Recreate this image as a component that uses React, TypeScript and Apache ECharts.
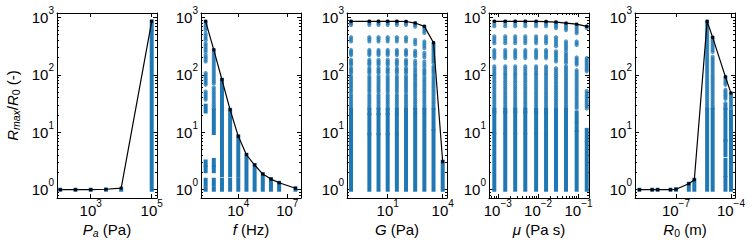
import React, { useEffect, useRef } from 'react';
import * as echarts from 'echarts';

// ---------- data ----------
// Panel 1: P_a (Pa)
const paX = [100, 316, 1000, 3162, 10000, 100000];
const paMax = [1.0, 1.0, 1.0, 1.02, 1.07, 850];
const paCols = [
  [100, 1, 1], [316, 1, 1], [1000, 1, 1], [3162, 1, 1], [10000, 1, 1],
  [100000, 1, 560], [100000, 620, 850],
];

// Panel 2: f (Hz)
const fX = [100, 316, 1000, 3162, 10000, 31623, 100000, 316228, 1000000, 3162278, 31622777];
const fMax = [850, 272, 82, 24.6, 8.5, 4.06, 2.69, 1.87, 1.53, 1.32, 1.06];
const fCols = [
  [100, 1, 1.05], [100, 1.22, 1.49], [100, 2.1, 2.45], [100, 2.7, 3.1],
  [100, 23, 29], [100, 37, 51], [100, 67, 107], [100, 170, 220], [100, 250, 350], [100, 400, 520], [100, 600, 850],
  [316, 1, 1.05], [316, 1.22, 1.49], [316, 2.1, 2.45], [316, 2.7, 3.3], [316, 9.7, 24], [316, 26, 60], [316, 70, 272],
  [1000, 1, 1.5], [1000, 1.8, 82],
  [3162, 1, 1.5], [3162, 1.8, 24.6],
  [10000, 1, 1.5], [10000, 1.75, 8.5],
  [31623, 1, 4.06], [100000, 1, 2.69], [316228, 1, 1.87], [1000000, 1, 1.53],
  [3162278, 1, 1.32], [31622777, 1, 1.06],
];

// Panel 3: G (Pa)
const gX = [0.1, 1, 3.16, 10, 31.6, 100, 316, 1000, 3162, 10000];
const gMax = [850, 850, 850, 850, 850, 845, 795, 695, 360, 3.07];
const gLevels = [[1, 9], [9.6, 20], [21.5, 24.5], [26, 45], [50, 95], [107, 131], [148, 182], [220, 270], [380, 450], [740, 850]];
const gCols316 = [[1, 20], [22.5, 24.5], [26, 95], [100, 130], [145, 175], [210, 260], [340, 407], [690, 794]];
const gCols1000 = [[1, 20], [23, 24.5], [26, 90], [100, 125], [140, 170], [200, 240], [290, 380], [535, 695]];
const gCols3162 = [[1, 10.5], [11.5, 24.5], [26, 95], [105, 140], [160, 230], [250, 360]];
const gCols10000 = [[1, 3.07]];

// Panel 4: mu (Pa s)
const muX = [0.00082, 0.00153, 0.0027, 0.0048, 0.0089, 0.0157, 0.0277, 0.049, 0.09, 0.16];
const muMax = [850, 850, 850, 850, 848, 840, 825, 795, 760, 695];
const muLevels = [[1, 9], [10, 22], [23, 24.5], [26, 60], [65, 100], [107, 140], [195, 270], [355, 465], [700, 850]];
const muCol7 = [[1, 22], [24, 24.5], [26, 130], [170, 255], [315, 450], [650, 820]];
const muCol8 = [[1, 11], [12.5, 17], [19, 24.5], [26, 140], [160, 240], [270, 380], [600, 760]];
const muCol9 = [[1, 10], [11, 14], [16, 22], [26, 120], [150, 200], [330, 380], [530, 740]];
const muCol10 = [[1, 6.4], [7.3, 11], [26, 52], [115, 195], [650, 700]];

// Panel 5: R_0 (m)
const rX = [1e-9, 5e-9, 1e-8, 5e-8, 1e-7, 5e-7, 1e-6, 5e-6, 1e-5, 5e-5, 1e-4];
const rMax = [1, 1, 1, 1, 1.02, 1.27, 1.49, 850, 447, 92, 48];
const rCols = [
  [1e-9, 1, 1], [5e-9, 1, 1], [1e-8, 1, 1], [5e-8, 1, 1], [1e-7, 1, 1.02],
  [5e-7, 1, 1.27], [1e-6, 1, 1.49], [5e-6, 1, 24.5], [5e-6, 26, 850],
  [1e-5, 1, 24.5], [1e-5, 26, 205], [1e-5, 250, 447],
  [5e-5, 1, 1.6], [5e-5, 1.8, 3.3], [5e-5, 4, 7], [5e-5, 7.4, 15.6], [5e-5, 18, 24.5], [5e-5, 26, 32], [5e-5, 38, 55], [5e-5, 67, 92],
  [1e-4, 1, 1.4], [1e-4, 1.6, 2.7], [1e-4, 3.1, 6], [1e-4, 6.9, 13.5], [1e-4, 15.6, 23], [1e-4, 26, 48],
];

// ticks
const yMajor = [1, 10, 100, 1000];
const yMinor = [0.8, 0.9, 2, 3, 4, 5, 6, 7, 8, 9, 20, 30, 40, 50, 60, 70, 80, 90, 200, 300, 400, 500, 600, 700, 800, 900];
const xMajor = [[1e3, 1e5], [1e4, 1e7], [1e1, 1e4], [1e-3, 1e-2, 1e-1], [1e-7, 1e-4]];
const muMinor = [0.0006, 0.0007, 0.0008, 0.0009, 0.002, 0.003, 0.004, 0.005, 0.006, 0.007, 0.008, 0.009,
  0.02, 0.03, 0.04, 0.05, 0.06, 0.07, 0.08, 0.09];
const xMinor = [[], [], [], muMinor, []];
const xNames = ['{i|P}{subi|a} (Pa)', '{i|f} (Hz)', '{i|G} (Pa)', '{i|μ} (Pa s)', '{i|R}{sub|0} (m)'];
const yName = '{i|R}{subi|max}/{i|R}{sub|0} (-)';

// ---------- layout / style ----------
const FONT = 'Liberation Sans, Arial, sans-serif';
const BLUE = '#1f77b4';
const DOTTED_FROM = 25; // segments above this value are drawn as overlapping dots
const GRID_LEFT = [57, 201, 347, 489, 635];
const GRID_W = 100;
const GRID_TOP = 13;
const GRID_H = 185;
const X_EXP = [[1.895, 5.174], [1.716, 7.84], [-1.22, 4.235], [-3.218, -0.74], [-9.237, -3.78]];
const Y_EXP = [-0.144, 3.075];

function expand(xs: number[], levels: number[][], maxes: number[]) {
  const out: number[][] = [];
  xs.forEach((x, i) => {
    levels.forEach(([lo, hi]) => {
      if (lo <= maxes[i]) out.push([x, lo, Math.min(hi, maxes[i])]);
    });
  });
  return out;
}

function buildCols(): number[][][] {
  const g = [
    ...expand(gX.slice(0, 6), gLevels, gMax.slice(0, 6)),
    ...gCols316.map(([a, b]) => [gX[6], a, b]),
    ...gCols1000.map(([a, b]) => [gX[7], a, b]),
    ...gCols3162.map(([a, b]) => [gX[8], a, b]),
    ...gCols10000.map(([a, b]) => [gX[9], a, b]),
  ];
  const mu = [
    ...expand(muX.slice(0, 6), muLevels, muMax.slice(0, 6)),
    ...muCol7.map(([a, b]) => [muX[6], a, b]),
    ...muCol8.map(([a, b]) => [muX[7], a, b]),
    ...muCol9.map(([a, b]) => [muX[8], a, b]),
    ...muCol10.map(([a, b]) => [muX[9], a, b]),
  ];
  return [paCols, fCols, g, mu, rCols];
}

const supFmt = (v: number) => {
  const e = Math.round(Math.log10(v));
  return '10{sup|' + (e < 0 ? '−' + (-e) : String(e)) + '}';
};

const labelRich = {
  sup: { fontSize: 10, fontFamily: FONT, color: '#000', padding: [0, 0, 14, 0] },
};
const nameRich = {
  i: { fontSize: 15, fontFamily: FONT, fontStyle: 'italic', color: '#000' },
  sub: { fontSize: 10.5, fontFamily: FONT, color: '#000', padding: [7, 0, 0, 0] },
  subi: { fontSize: 10.5, fontFamily: FONT, fontStyle: 'italic', color: '#000', padding: [7, 0, 0, 0] },
};

const renderCol = (params: any, api: any) => {
  const x = api.value(0), lo = api.value(1), hi = api.value(2);
  const t = api.coord([x, hi]);
  const b = api.coord([x, lo]);
  const w = 4;
  if (lo < DOTTED_FROM || params.seriesIndex === 0) {
    return {
      type: 'rect',
      shape: { x: t[0] - w / 2, y: t[1] - 2, width: w, height: b[1] - t[1] + 4 },
      style: { fill: BLUE },
    };
  }
  const children: any[] = [];
  const n = Math.max(1, Math.round((b[1] - t[1]) / 2));
  for (let k = 0; k <= n; k++) {
    const yy = t[1] + ((b[1] - t[1]) * k) / n;
    children.push({ type: 'circle', shape: { cx: t[0], cy: yy, r: 2.1 }, style: { fill: BLUE, opacity: 0.75 } });
  }
  return { type: 'group', children };
};

function buildOption() {
  const cols = buildCols();
  const xsAll = [paX, fX, gX, muX, rX];
  const envAll = [paMax, fMax, gMax, muMax, rMax];
  const grid: any[] = [];
  const xAxis: any[] = [];
  const yAxis: any[] = [];
  const series: any[] = [];
  const yMin = Math.pow(10, Y_EXP[0]);
  const yMax = Math.pow(10, Y_EXP[1]);
  const line = { show: true, lineStyle: { color: '#000', width: 1 } };

  for (let p = 0; p < 5; p++) {
    grid.push({ left: GRID_LEFT[p], top: GRID_TOP, width: GRID_W, height: GRID_H, containLabel: false });
    const xMin = Math.pow(10, X_EXP[p][0]);
    const xMax = Math.pow(10, X_EXP[p][1]);
    const xBase = { type: 'log', logBase: 10, gridIndex: p, min: xMin, max: xMax, splitLine: { show: false } };
    const xi = xAxis.length;
    xAxis.push({
      ...xBase, position: 'bottom', axisLine: line,
      axisTick: { show: true, inside: true, length: 4, customValues: xMajor[p], lineStyle: { color: '#000' } },
      axisLabel: { show: true, customValues: xMajor[p], formatter: supFmt, fontSize: 15, fontFamily: FONT, color: '#000', margin: 0, rich: labelRich },
      name: xNames[p], nameLocation: 'middle', nameGap: 18,
      nameTextStyle: { fontSize: 15, fontFamily: FONT, color: '#000', rich: nameRich },
    });
    xAxis.push({
      ...xBase, position: 'top', axisLine: line,
      axisTick: { show: true, inside: true, length: 4, customValues: xMajor[p], lineStyle: { color: '#000' } },
      axisLabel: { show: false },
    });
    if (xMinor[p].length) {
      ['bottom', 'top'].forEach((pos) => xAxis.push({
        ...xBase, position: pos, axisLine: { show: false },
        axisTick: { show: true, inside: true, length: 2, customValues: xMinor[p], lineStyle: { color: '#000' } },
        axisLabel: { show: false },
      }));
    }
    const yBase = { type: 'log', logBase: 10, gridIndex: p, min: yMin, max: yMax, splitLine: { show: false } };
    const yi = yAxis.length;
    yAxis.push({
      ...yBase, position: 'left', axisLine: line,
      axisTick: { show: true, inside: true, length: 4, customValues: yMajor, lineStyle: { color: '#000' } },
      axisLabel: { show: true, customValues: yMajor, formatter: supFmt, fontSize: 15, fontFamily: FONT, color: '#000', margin: 3, rich: labelRich },
      ...(p === 0 ? {
        name: yName, nameLocation: 'middle', nameGap: 36,
        nameTextStyle: { fontSize: 15, fontFamily: FONT, color: '#000', rich: nameRich },
      } : {}),
    });
    yAxis.push({
      ...yBase, position: 'right', axisLine: line,
      axisTick: { show: true, inside: true, length: 4, customValues: yMajor, lineStyle: { color: '#000' } },
      axisLabel: { show: false },
    });
    ['left', 'right'].forEach((pos) => yAxis.push({
      ...yBase, position: pos, axisLine: { show: false },
      axisTick: { show: true, inside: true, length: 2, customValues: yMinor, lineStyle: { color: '#000' } },
      axisLabel: { show: false },
    }));

    series.push({
      type: 'custom', xAxisIndex: xi, yAxisIndex: yi, clip: true,
      encode: { x: 0, y: [1, 2] },
      data: cols[p],
      renderItem: renderCol,
      z: 2,
    });
    series.push({
      type: 'line', xAxisIndex: xi, yAxisIndex: yi,
      data: xsAll[p].map((x, i) => [x, envAll[p][i]]),
      symbol: 'rect', symbolSize: 3, showSymbol: true,
      lineStyle: { color: '#000', width: 1.2 }, itemStyle: { color: '#000' },
      z: 5,
    });
  }
  return { animation: false, grid, xAxis, yAxis, series };
}

export default function App() {
  const ref = useRef<HTMLDivElement>(null);
  useEffect(() => {
    if (!ref.current) return;
    const chart = echarts.init(ref.current, undefined, { renderer: 'svg' });
    chart.setOption(buildOption() as any);
    return () => chart.dispose();
  }, []);
  return (
    <div
      ref={ref}
      style={{ position: 'fixed', left: 0, top: 0, width: 755, height: 252, background: '#fff' }}
    />
  );
}
